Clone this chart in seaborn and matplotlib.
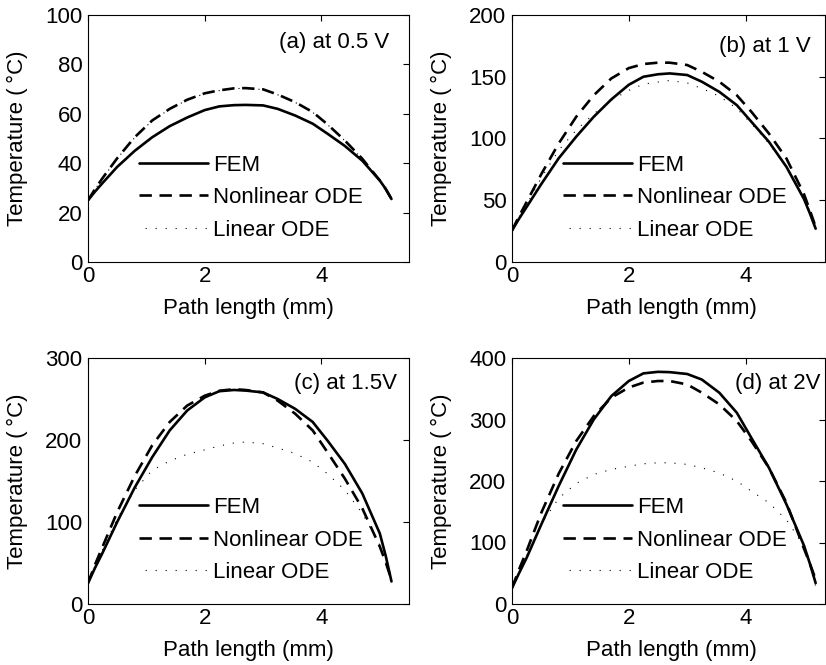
import matplotlib
matplotlib.use("Agg")
import matplotlib.pyplot as plt
import seaborn as sns

# Sample positions along the heated path (mm)
path_mm = [0.0, 0.12, 0.25, 0.5, 0.8, 1.1, 1.4, 1.7, 2.0, 2.25, 2.5,
           2.7, 3.0, 3.25, 3.55, 3.85, 4.1, 4.4, 4.7, 5.0, 5.1, 5.2]

# (a) 0.5 V
fem_05 = [25, 28.5, 32, 38.5, 45, 50.5, 55, 58.5, 61.5, 63, 63.5,
          63.6, 63.4, 62, 59.3, 56, 52, 47, 41, 33, 29.6, 25.5]
nonlin_05 = [25, 29.5, 34, 42, 50.5, 57.3, 62, 65.7, 68.3, 69.5, 70.3,
             70.4, 69.9, 67.8, 64.7, 60.7, 55.8, 49.2, 41.8, 33, 29.6, 25.5]
lin_05 = [25, 29.4, 33.9, 41.9, 50.4, 57.2, 61.9, 65.6, 68.2, 69.4, 70.2,
          70.3, 69.8, 67.7, 64.6, 60.6, 55.7, 49.1, 41.7, 32.9, 29.5, 25.5]

# (b) 1 V
fem_10 = [25.5, 35, 44.5, 63, 84, 101.5, 117.6, 131.6, 143.5, 150, 152,
          152.7, 151.4, 146, 137.8, 127, 113.5, 97.3, 77, 51, 39.5, 27]
nonlin_10 = [25.5, 37, 48.5, 71, 96, 117.6, 135, 148.6, 157, 160.3, 161.4,
             161.4, 159.5, 154, 146, 135, 121.6, 104, 83.8, 55, 42, 28.4]
lin_10 = [25.5, 36, 46.5, 68, 90.5, 106.8, 120, 131, 139, 144, 145.7,
          147, 145, 140.5, 134.3, 124.3, 112, 96, 77, 52.5, 41, 28.4]

# (c) 1.5 V
fem_15 = [25.5, 44, 62.5, 100, 142, 179, 211.7, 236, 252, 259.5, 261,
          260.3, 258, 250, 238, 222, 199.6, 171, 134.8, 86, 59, 27.5]
nonlin_15 = [25.5, 48, 70, 112, 156, 193.5, 222, 242, 254, 260, 262,
             261, 258, 248, 232, 211.7, 185.4, 153, 116.6, 70, 51, 29.5]
lin_15 = [25.5, 46, 66, 104, 139, 163, 174.5, 182.6, 188, 192.7, 196.4,
          197.6, 195.5, 190.3, 183.4, 173, 159, 139, 110.5, 72, 51, 27.5]

# (d) 2 V
fem_20 = [26, 50, 75, 129, 192, 251, 300, 338, 362.6, 375, 377.5,
          377, 374, 365, 343.6, 311, 270, 221.5, 162, 95, 66, 34]
nonlin_20 = [26, 56, 86, 148, 212, 265, 305.6, 335.5, 352, 360, 362.6,
             362.6, 357, 343.6, 324.6, 297.5, 265, 221.5, 164.5, 90, 66, 40]
lin_20 = [26, 52, 78, 130, 172, 196, 210.6, 218.8, 224, 228, 229.6,
          229.6, 227, 221.5, 213, 199.8, 183.5, 164.5, 137, 94, 63, 28.8]

series_names = ["FEM", "Nonlinear ODE", "Linear ODE"]
panel_titles = ["(a) at 0.5 V", "(b) at 1 V", "(c) at 1.5V", "(d) at 2V"]
y_limits = [100, 200, 300, 400]
y_steps = [20, 50, 100, 100]
x_ticks = [0, 2, 4]

sns.set_style("white")
plt.rcParams["font.family"] = ["Liberation Sans", "DejaVu Sans"]
plt.rcParams["lines.scale_dashes"] = False
plt.rcParams["axes.linewidth"] = 0.8
plt.rcParams["text.color"] = "black"
plt.rcParams["axes.labelcolor"] = "black"
plt.rcParams["xtick.color"] = "black"
plt.rcParams["ytick.color"] = "black"

FS = 16

fig = plt.figure(figsize=(8.26, 6.65), dpi=100)
W, H = 826.0, 665.0


def px_axes(left, top, right, bottom):
    return fig.add_axes([left / W, 1 - bottom / H, (right - left) / W, (bottom - top) / H])


axes = [
    px_axes(88, 15, 409, 262),
    px_axes(512, 15, 825, 262),
    px_axes(88, 358, 409, 604),
    px_axes(512, 358, 825, 604),
]
x_max = [5.5, 5.36, 5.5, 5.36]
title_pos = [(5.17, 88.7), (5.12, 174.3), (5.29, 269.5), (5.29, 359.0)]
xlabel_x = [0.5, 0.51, 0.5, 0.51]

data = [
    (fem_05, nonlin_05, lin_05),
    (fem_10, nonlin_10, lin_10),
    (fem_15, nonlin_15, lin_15),
    (fem_20, nonlin_20, lin_20),
]

styles = [
    dict(linestyle="-", linewidth=1.9),
    dict(linestyle=(0, (8.9, 5.5)), linewidth=1.9),
    dict(linestyle=(2.8, (0.8, 6.4)), linewidth=0.8),
]

for i, ax in enumerate(axes):
    for name, vals, st in zip(series_names, data[i], styles):
        sns.lineplot(x=path_mm, y=vals, ax=ax, color="black", label=name,
                     estimator=None, **st)
    ax.set_xlim(0, x_max[i])
    ax.set_ylim(0, y_limits[i])
    ax.set_xticks(x_ticks)
    ax.set_yticks(list(range(0, y_limits[i] + 1, y_steps[i])))
    ax.tick_params(direction="in", top=True, right=True, length=4, width=0.8,
                   labelsize=FS, pad=4, colors="black")
    ax.tick_params(axis="x", pad=3)
    for sp in ax.spines.values():
        sp.set_visible(True)
        sp.set_color("black")
        sp.set_linewidth(0.8)
    ax.set_xlabel("Path length (mm)", fontsize=FS)
    ax.set_ylabel("Temperature (\u2009°C)", fontsize=FS)
    w_px = ax.get_position().width * W
    h_px = ax.get_position().height * H
    ax.yaxis.set_label_coords(-60.0 / w_px, 0.5)
    ax.xaxis.set_label_coords(xlabel_x[i], -36.0 / h_px)
    tx, ty = title_pos[i]
    ax.text(tx, ty, panel_titles[i], ha="right", va="center", fontsize=FS)
    ax.legend(loc="upper left", bbox_to_anchor=(51.0 / w_px, 0.435),
              frameon=False, fontsize=FS, borderpad=0, borderaxespad=0,
              handlelength=3.1, handletextpad=0.25, labelspacing=0.52)

fig.savefig("out.png", dpi=100)
